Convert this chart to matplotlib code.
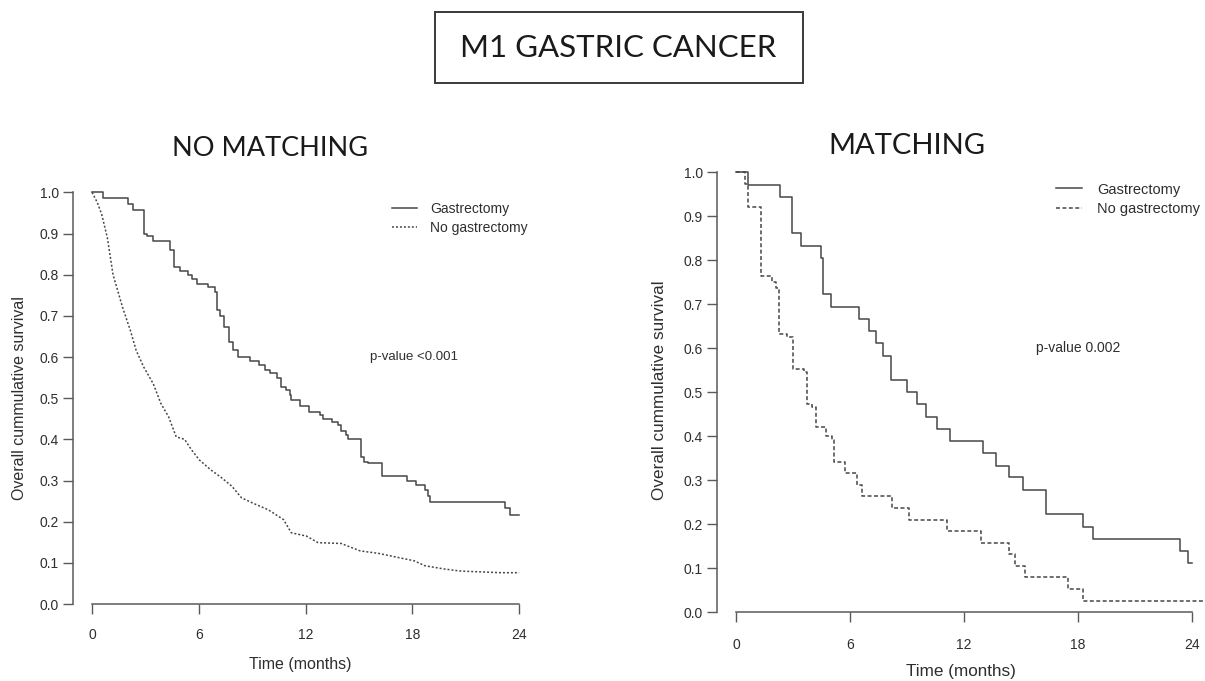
import matplotlib
matplotlib.use("Agg")
import matplotlib.pyplot as plt
from matplotlib.patches import Rectangle

plt.rcParams['font.family'] = ['Liberation Sans', 'DejaVu Sans']

# ---- data ----
# no matching: gastrectomy (KM steps)
nm_gas_t = [0, 0.6, 2.0, 2.3, 2.9, 3.1, 3.4, 4.4, 4.6, 4.95, 5.4, 5.6, 5.9, 6.5, 6.9,
            7.0, 7.2, 7.4, 7.7, 7.9, 8.2, 8.9, 9.4, 9.7, 10.0, 10.4, 10.6, 10.9, 11.1,
            11.2, 11.7, 12.2, 12.8, 13.0, 13.5, 13.8, 14.0, 14.3, 14.4, 15.1, 15.3,
            15.5, 16.3, 17.7, 18.2, 18.7, 18.9, 19.0, 23.2, 23.5, 24.0]
nm_gas_s = [1.0, 0.986, 0.971, 0.957, 0.90, 0.895, 0.883, 0.86, 0.818, 0.81, 0.80, 0.79,
            0.778, 0.77, 0.758, 0.713, 0.70, 0.673, 0.636, 0.616, 0.60, 0.59, 0.58, 0.568,
            0.56, 0.55, 0.527, 0.52, 0.507, 0.495, 0.48, 0.467, 0.46, 0.45, 0.443, 0.435,
            0.42, 0.41, 0.40, 0.358, 0.346, 0.342, 0.31, 0.298, 0.29, 0.278, 0.262, 0.247,
            0.233, 0.217, 0.217]
# no matching: no gastrectomy (many small steps, looks smooth)
nm_nogas_t = [0, 0.3, 0.54, 0.86, 1.18, 1.45, 1.72, 2.15, 2.48, 2.9, 3.44, 3.87, 4.3,
              4.73, 5.2, 5.6, 6.03, 6.67, 7.3, 7.86, 8.4, 9.04, 9.9, 10.76, 11.2, 12.05,
              12.7, 14.0, 15.07, 16.1, 17.2, 18.1, 18.7, 19.8, 20.7, 23.0, 24.0]
nm_nogas_s = [1.0, 0.975, 0.947, 0.89, 0.80, 0.76, 0.72, 0.665, 0.616, 0.576, 0.535,
              0.487, 0.455, 0.406, 0.40, 0.374, 0.35, 0.326, 0.306, 0.286, 0.258, 0.245,
              0.229, 0.205, 0.173, 0.165, 0.149, 0.147, 0.129, 0.123, 0.113, 0.105, 0.093,
              0.085, 0.08, 0.076, 0.076]

# matching: gastrectomy
m_gas_t = [0, 0.63, 2.3, 2.95, 3.4, 4.5, 4.6, 5.0, 6.48, 7.0, 7.35, 7.76, 8.15, 8.98,
           9.53, 10.0, 10.6, 11.26, 13.0, 13.7, 14.4, 15.1, 16.35, 18.3, 18.8, 23.4,
           23.8, 24.0]
m_gas_s = [1.0, 0.972, 0.944, 0.861, 0.833, 0.806, 0.722, 0.694, 0.667, 0.639, 0.611,
           0.583, 0.528, 0.5, 0.472, 0.444, 0.417, 0.389, 0.361, 0.333, 0.306, 0.278,
           0.222, 0.194, 0.167, 0.139, 0.111, 0.111]
# matching: no gastrectomy
m_nogas_t = [0, 0.47, 0.63, 1.3, 1.9, 2.1, 2.24, 2.7, 3.0, 3.6, 3.73, 4.0, 4.24, 4.75,
             5.05, 5.15, 5.76, 6.37, 6.64, 8.2, 9.12, 11.1, 12.9, 14.4, 14.7, 15.2,
             17.5, 18.3, 24.6]
m_nogas_s = [1.0, 0.974, 0.921, 0.763, 0.75, 0.737, 0.632, 0.625, 0.553, 0.545, 0.474,
             0.466, 0.421, 0.40, 0.39, 0.342, 0.316, 0.289, 0.263, 0.237, 0.21, 0.184,
             0.158, 0.132, 0.105, 0.079, 0.053, 0.026, 0.026]

x_ticks = [0, 6, 12, 18, 24]
y_ticks = [0.0, 0.1, 0.2, 0.3, 0.4, 0.5, 0.6, 0.7, 0.8, 0.9, 1.0]
labels = ['Gastrectomy', 'No gastrectomy']

line_col = '#474747'
axis_col = '#5a5a5a'
text_col = '#2e2e2e'

fig = plt.figure(figsize=(12.05, 6.81), dpi=100)

# main boxed title
fig.patches.append(Rectangle((435 / 1205, 1 - 83 / 681), 368 / 1205, 71 / 681,
                             transform=fig.transFigure, fill=False,
                             edgecolor='#3a3a3a', linewidth=1.4))
fig.text(618 / 1205, 1 - 48 / 681, 'M1 GASTRIC CANCER', family='Lato',
         fontsize=22.5, ha='center', va='center', color='#1a1a1a')


def style_axes(ax, xlim, title, title_xy, title_fs, lab_fs, xlab_y, ylab_y, xtick_pad):
    ax.set_xlim(*xlim)
    ax.set_ylim(0, 1.03)
    for s in ['top', 'right']:
        ax.spines[s].set_visible(False)
    ax.spines['left'].set_bounds(0, 1)
    ax.spines['bottom'].set_bounds(0, 24)
    for s in ['left', 'bottom']:
        ax.spines[s].set_color(axis_col)
        ax.spines[s].set_linewidth(1.1)
    ax.set_xticks(x_ticks)
    ax.set_yticks(y_ticks)
    ax.set_yticklabels(['%.1f' % v for v in y_ticks])
    ax.tick_params(axis='both', colors=axis_col, labelcolor=text_col,
                   labelsize=10, length=7, width=1.0)
    ax.tick_params(axis='y', pad=3)
    ax.tick_params(axis='x', pad=xtick_pad)
    ax.set_xlabel('Time (months)', fontsize=lab_fs, color=text_col)
    ax.xaxis.set_label_coords(0.5, xlab_y)
    ax.set_ylabel('Overall cummulative survival', fontsize=lab_fs, color=text_col)
    ax.yaxis.set_label_coords(-0.102, ylab_y)
    fig.text(title_xy[0] / 1205, 1 - title_xy[1] / 681, title, family='Lato',
             fontsize=title_fs, ha='center', va='center', color='#1a1a1a')


# ---- left panel: no matching ----
ax1 = fig.add_axes([73 / 1205, 77 / 681, 455 / 1205, 424 / 681])
ax1.step(nm_gas_t, nm_gas_s, where='post', color=line_col, lw=1.1,
         linestyle='-', label=labels[0])
ax1.plot(nm_nogas_t, nm_nogas_s, color=line_col, lw=1.1,
         linestyle=(0, (1.3, 1.3)), label=labels[1])
style_axes(ax1, (-1.07, 24.5), 'NO MATCHING', (270, 149), 19.5, 11.5,
           -0.125, 0.486, 10)
ax1.text(15.6, 0.60, 'p-value <0.001', fontsize=9.5, color=text_col,
         ha='left', va='center')
ax1.legend(loc='upper left', bbox_to_anchor=(0.70, 0.948), frameon=False,
           fontsize=10, handlelength=1.8, handletextpad=1.0, labelspacing=0.35,
           borderpad=0, borderaxespad=0, labelcolor=text_col)

# ---- right panel: matching ----
ax2 = fig.add_axes([717 / 1205, 69 / 681, 488 / 1205, 453 / 681])
ax2.step(m_gas_t, m_gas_s, where='post', color=line_col, lw=1.1,
         linestyle='-', label=labels[0])
ax2.step(m_nogas_t, m_nogas_s, where='post', color=line_col, lw=1.1,
         linestyle=(0, (2.6, 1.6)), label=labels[1])
style_axes(ax2, (-1.0, 24.7), 'MATCHING', (907, 146), 21, 12.3,
           -0.115, 0.49, 12)
ax2.text(15.8, 0.60, 'p-value 0.002', fontsize=10, color=text_col,
         ha='left', va='center')
ax2.legend(loc='upper left', bbox_to_anchor=(0.695, 0.948), frameon=False,
           fontsize=10.5, handlelength=1.8, handletextpad=1.0, labelspacing=0.35,
           borderpad=0, borderaxespad=0, labelcolor=text_col)

fig.savefig('out.png', dpi=100)
